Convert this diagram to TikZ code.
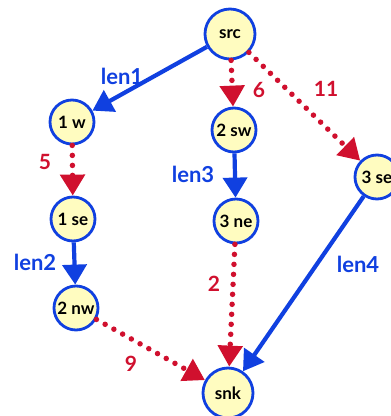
\documentclass[tikz,border=0pt]{standalone}
\usepackage{fontspec}
\setmainfont{Lato}
\usetikzlibrary{arrows.meta}
\definecolor{eblue}{HTML}{1040E0}
\definecolor{ered}{HTML}{D0102E}
\definecolor{nfill}{HTML}{FFFCC0}
\begin{document}
\begin{tikzpicture}[x=1pt,y=-1pt,
 vert/.style={circle,draw=eblue,line width=2.8pt,fill=nfill,minimum size=44pt,inner sep=0pt,font=\bfseries\fontsize{17}{17}\selectfont},
 bigvert/.style={vert,minimum size=50pt},
 blue edge/.style={draw=eblue,line width=4.2pt,-{Triangle[length=20pt,width=24pt]}},
 red edge/.style={draw=ered,line width=5.5pt,line cap=round,dash pattern=on 0pt off 10pt,-{Triangle[length=21pt,width=24pt]}},
 blab/.style={text=eblue,font=\bfseries\fontsize{22}{22}\selectfont},
 rlab/.style={text=ered,font=\bfseries\fontsize{21}{21}\selectfont}]
\useasboundingbox (0,0) rectangle (391,416);
\node[bigvert] (src) at (230,34) {src};
\node[vert] (w1) at (72,122) {1 w};
\node[vert] (sw2) at (234,130) {2 sw};
\node[vert] (se3) at (377,177) {3 se};
\node[vert] (se1) at (73,219) {1 se};
\node[vert] (ne3) at (236,221) {3 ne};
\node[vert] (nw2) at (76,308) {2 nw};
\node[bigvert] (snk) at (228,393) {snk};

\draw[blue edge] (src) -- (w1);
\draw[red edge] (src) -- (sw2);
\draw[red edge] (src) -- (se3);
\draw[red edge] (w1) -- (se1);
\draw[blue edge] (sw2) -- (ne3);
\draw[blue edge] (se1) -- (nw2);
\draw[red edge] (ne3) -- (snk);
\draw[red edge] (nw2) -- (snk);
\draw[blue edge] (se3) -- (snk);

\node[blab] (l1) at (122,76) {len1};
\node[blab] (l2) at (35,262) {len2};
\node[blab] (l3) at (193,174) {len3};
\node[blab] (l4) at (358,264) {len4};
\node[rlab] (n6) at (259,90) {6};
\node[rlab] (n11) at (326,89) {11};
\node[rlab] (n5) at (45,162) {5};
\node[rlab] (n2) at (214,284) {2};
\node[rlab] (n9) at (131,364) {9};
\end{tikzpicture}
\end{document}
